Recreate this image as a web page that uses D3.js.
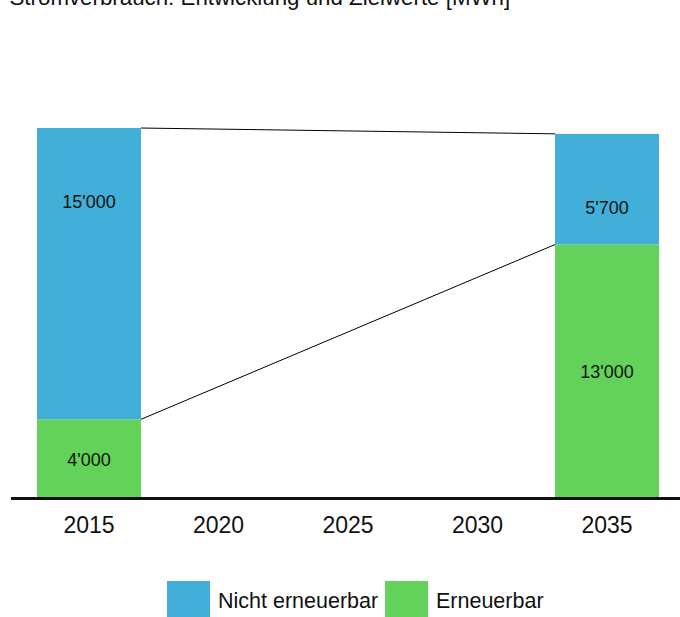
<!DOCTYPE html>
<html>
<head>
<meta charset="utf-8">
<script src="https://cdn.jsdelivr.net/npm/d3@7"></script>
<style>
  html, body { margin: 0; padding: 0; background: #fff; }
  svg { display: block; font-family: "Liberation Sans", Arial, sans-serif; }
</style>
</head>
<body>
<svg id="chart" width="680" height="617"></svg>
<script>
// ---- data ----
const title = "Stromverbrauch: Entwicklung und Zielwerte [MWh]";
const years = ["2015", "2020", "2025", "2030", "2035"];
const barYears = ["2015", "2035"];
const erneuerbar = [4000, 13000];        // green, bottom
const nichtErneuerbar = [15000, 5700];   // blue, top
const seriesNames = ["Nicht erneuerbar", "Erneuerbar"];
const seriesColors = ["#42AFD8", "#62D25A"];

// ---- setup ----
const svg = d3.select("#chart");
const W = 680, H = 617;
const baseY = 497;

const x = d3.scaleBand().domain(years).range([24.25, 671.75])
  .paddingInner(0.197).paddingOuter(0.0985);
const y = d3.scaleLinear().domain([0, 20000]).range([baseY, 108.6]);

const locale = d3.formatLocale({ decimal: ".", thousands: "'", grouping: [3], currency: ["", ""] });
const fmt = locale.format(",");

const rows = barYears.map((yr, i) => ({ year: yr, ern: erneuerbar[i], nicht: nichtErneuerbar[i] }));
const stack = d3.stack().keys(["ern", "nicht"])(rows);

// title (partly cut at top)
svg.append("text").attr("x", 9.5).attr("y", 4.5)
  .attr("font-size", 22.3).attr("fill", "#111").text(title);

// bars
const colorFor = { ern: seriesColors[1], nicht: seriesColors[0] };
stack.forEach(layer => {
  svg.append("g").selectAll("rect").data(layer).join("rect")
    .attr("x", d => x(d.data.year))
    .attr("width", x.bandwidth())
    .attr("y", d => y(d[1]))
    .attr("height", d => y(d[0]) - y(d[1]))
    .attr("fill", colorFor[layer.key]);
});

// connector lines between the two bars
const a = rows[0], b = rows[1];
const xR = x(a.year) + x.bandwidth(), xL = x(b.year);
svg.append("line")
  .attr("x1", xR).attr("y1", y(a.ern + a.nicht))
  .attr("x2", xL).attr("y2", y(b.ern + b.nicht))
  .attr("stroke", "#000").attr("stroke-width", 1);
svg.append("line")
  .attr("x1", xR).attr("y1", y(a.ern))
  .attr("x2", xL).attr("y2", y(b.ern))
  .attr("stroke", "#000").attr("stroke-width", 1);

// value labels
const lab = svg.append("g").attr("font-size", 18).attr("fill", "#111").attr("text-anchor", "middle");
rows.forEach(r => {
  const cx = x(r.year) + x.bandwidth() / 2;
  lab.append("text").attr("x", cx).attr("y", (y(0) + y(r.ern)) / 2 + 1.5)
    .attr("dominant-baseline", "central").text(fmt(r.ern));
  lab.append("text").attr("x", cx).attr("y", y(r.ern + r.nicht) + 74)
    .attr("dominant-baseline", "central").text(fmt(r.nicht));
});

// x axis
const axis = svg.append("g").attr("transform", `translate(0,${baseY})`)
  .call(d3.axisBottom(x).tickSize(0).tickPadding(20));
axis.select(".domain").remove();
axis.selectAll("text").attr("font-size", 23).attr("fill", "#111")
  .attr("font-family", "Liberation Sans, Arial, sans-serif");
svg.append("line").attr("x1", 11).attr("x2", W).attr("y1", baseY + 1.5).attr("y2", baseY + 1.5)
  .attr("stroke", "#111").attr("stroke-width", 3);

// legend
const legendItems = [
  { name: seriesNames[0], color: seriesColors[0], sx: 167, tx: 218 },
  { name: seriesNames[1], color: seriesColors[1], sx: 385, tx: 436 }
];
const lg = svg.append("g");
legendItems.forEach(it => {
  lg.append("rect").attr("x", it.sx).attr("y", 581).attr("width", 43).attr("height", 36).attr("fill", it.color);
  lg.append("text").attr("x", it.tx).attr("y", 608).attr("font-size", 21.5).attr("fill", "#111").text(it.name);
});
</script>
</body>
</html>
